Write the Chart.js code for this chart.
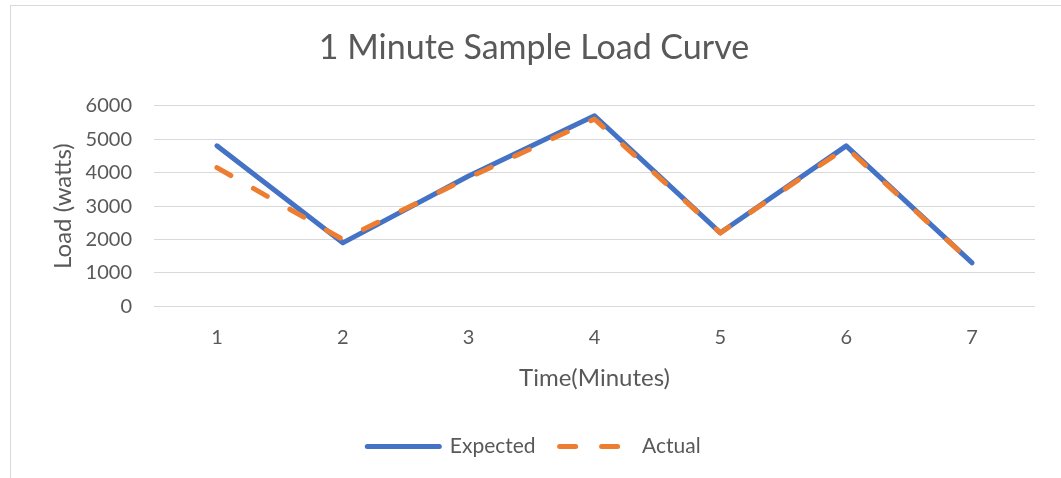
<!DOCTYPE html>
<html>
<head>
<meta charset="utf-8">
<title>1 Minute Sample Load Curve</title>
<script src="https://cdn.jsdelivr.net/npm/chart.js@4/dist/chart.umd.min.js"></script>
<style>
    html, body { margin: 0; padding: 0; background: #fff; overflow: hidden; }
    #frame {
        position: absolute; left: 10px; top: 5px; width: 1100px; height: 500px;
        border-left: 1px solid #d9d9d9; border-top: 1px solid #d9d9d9;
    }
    #wrap { position: absolute; left: 0; top: 0; width: 1061px; height: 478px; }
</style>
</head>
<body>
<div id="frame"></div>
<div id="wrap"><canvas id="loadChart"></canvas></div>
<script>
// values
const minutes = ['1', '2', '3', '4', '5', '6', '7'];
const expectedLoad = [4800, 1900, 3900, 5700, 2200, 4800, 1300];
const actualLoad = [4150, 2000, 3850, 5600, 2200, 4750, 1300];
const yTicks = [0, 1000, 2000, 3000, 4000, 5000, 6000];

const textColor = '#595959';
const fontFamily = 'Lato, "Open Sans", sans-serif';

const ctx = document.getElementById('loadChart').getContext('2d');

// legend entries drawn with the dataset's own line style (width, dash, caps)
function legendLabels(chart) {
    const items = Chart.defaults.plugins.legend.labels.generateLabels(chart);
    items.forEach(item => {
        const ds = chart.data.datasets[item.datasetIndex];
        item.lineWidth = ds.borderWidth;
        item.lineDash = ds.borderDash || [];
        item.lineCap = ds.borderCapStyle;
        item.strokeStyle = ds.borderColor;
        item.fillStyle = ds.borderColor;
        item.pointStyle = 'line';
    });
    return items.sort((a, b) => a.datasetIndex - b.datasetIndex);
}

new Chart(ctx, {
    type: 'line',
    data: {
        labels: minutes,
        datasets: [{
            label: 'Expected',
            data: expectedLoad,
            borderColor: '#4472C4',
            backgroundColor: '#4472C4',
            borderWidth: 5,
            borderCapStyle: 'round',
            borderJoinStyle: 'round',
            pointRadius: 0,
            tension: 0,
            fill: false,
            order: 2
        }, {
            label: 'Actual',
            data: actualLoad,
            borderColor: '#ED7D31',
            backgroundColor: '#ED7D31',
            borderWidth: 5,
            borderDash: [16, 26],
            borderCapStyle: 'round',
            borderJoinStyle: 'round',
            pointRadius: 0,
            tension: 0,
            fill: false,
            order: 1
        }]
    },
    options: {
        responsive: true,
        maintainAspectRatio: false,
        animation: false,
        layout: {
            padding: { left: 33, right: 26, top: 0, bottom: 11 }
        },
        plugins: {
            title: {
                display: true,
                text: '1 Minute Sample Load Curve',
                color: textColor,
                font: { family: fontFamily, size: 34, weight: 'normal' },
                padding: { top: 27.6, bottom: 37.3 }
            },
            legend: {
                position: 'bottom',
                labels: {
                    usePointStyle: true,
                    pointStyle: 'line',
                    pointStyleWidth: 72,
                    padding: 24,
                    color: textColor,
                    font: { family: fontFamily, size: 21 },
                    generateLabels: legendLabels
                }
            },
            tooltip: { enabled: false }
        },
        scales: {
            x: {
                offset: true,
                grid: { display: false },
                border: { display: false },
                ticks: {
                    color: textColor,
                    padding: 11.5,
                    font: { family: fontFamily, size: 20 }
                },
                title: {
                    display: true,
                    text: 'Time(Minutes)',
                    color: textColor,
                    font: { family: fontFamily, size: 24 },
                    padding: { top: 0, bottom: 19 }
                },
                afterFit: (scale) => { scale.height = 105.6; }
            },
            y: {
                min: 0,
                max: 6000,
                afterBuildTicks: (scale) => {
                    scale.ticks = yTicks.map(v => ({ value: v }));
                },
                grid: {
                    color: '#d9d9d9',
                    lineWidth: 1,
                    drawTicks: false
                },
                border: { display: false },
                ticks: {
                    color: textColor,
                    padding: 22,
                    font: { family: fontFamily, size: 20 },
                    callback: (value) => String(value)
                },
                title: {
                    display: true,
                    text: 'Load (watts)',
                    color: textColor,
                    font: { family: fontFamily, size: 24 },
                    padding: { top: 15.6, bottom: 0 }
                },
                afterFit: (scale) => { scale.width = 121; }
            }
        }
    }
});
</script>
</body>
</html>
